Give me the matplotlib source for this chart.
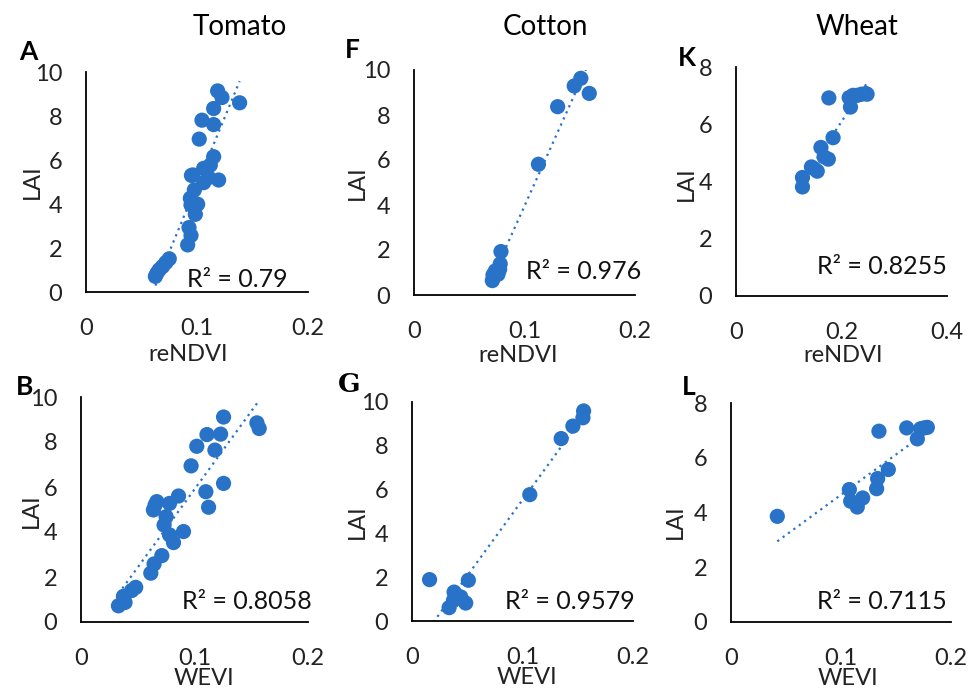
import matplotlib
matplotlib.use("Agg")
import matplotlib.pyplot as plt
import numpy as np

# -------------------- Data -------------------- #

crops = ["Tomato", "Cotton", "Wheat"]

# Tomato, reNDVI vs LAI (panel A)
tomato_rendvi = [0.0625, 0.064, 0.066, 0.069, 0.072, 0.075, 0.0916, 0.0946, 0.0928,
                 0.0985, 0.1006, 0.0946, 0.094, 0.0976, 0.0964, 0.095, 0.106, 0.1105,
                 0.1195, 0.106, 0.112, 0.115, 0.102, 0.1045, 0.115, 0.115, 0.1186,
                 0.1225, 0.1384]
tomato_lai_a = [0.71, 0.86, 1.01, 1.16, 1.34, 1.51, 2.14, 2.57, 2.93,
                3.53, 3.99, 3.96, 4.26, 4.64, 5.32, 5.30, 4.97, 5.20,
                5.09, 5.62, 5.77, 6.15, 6.95, 7.81, 7.61, 8.34, 9.14,
                8.84, 8.60]

# Tomato, WEVI vs LAI (panel B)
tomato_wevi = [0.033, 0.0388, 0.0374, 0.0447, 0.0482, 0.0615, 0.0644, 0.0712, 0.0815,
               0.078, 0.0903, 0.0732, 0.075, 0.0638, 0.0653, 0.0668, 0.078, 0.0859,
               0.097, 0.102, 0.118, 0.111, 0.123, 0.1256, 0.110, 0.1124, 0.1256,
               0.155, 0.157]
tomato_lai_b = [0.72, 0.87, 1.14, 1.40, 1.54, 2.17, 2.58, 2.95, 3.53,
                3.87, 4.02, 4.31, 4.68, 4.98, 5.20, 5.35, 5.27, 5.60,
                6.94, 7.81, 7.64, 8.33, 8.35, 9.11, 5.79, 5.10, 6.16,
                8.85, 8.60]

# Cotton (panels F and G)
cotton_rendvi = [0.0709, 0.0715, 0.0736, 0.076, 0.0775, 0.078, 0.0787, 0.1126, 0.130,
                 0.145, 0.151, 0.1586]
cotton_lai_f = [0.64, 0.89, 1.07, 0.92, 1.14, 1.38, 1.93, 5.81, 8.37,
                9.29, 9.63, 8.96]
cotton_wevi = [0.0159, 0.0336, 0.0381, 0.0375, 0.0405, 0.0441, 0.0486, 0.051, 0.1066,
               0.135, 0.1456, 0.1547, 0.1553]
cotton_lai_g = [1.89, 0.61, 1.32, 0.94, 1.13, 1.10, 0.82, 1.86, 5.77,
                8.33, 8.90, 9.28, 9.59]

# Wheat (panels K and L)
wheat_rendvi = [0.126, 0.126, 0.143, 0.148, 0.154, 0.161, 0.167, 0.175, 0.184,
                0.176, 0.217, 0.2145, 0.222, 0.230, 0.238, 0.246, 0.2485]
wheat_lai_k = [3.81, 4.14, 4.51, 4.45, 4.36, 5.19, 4.86, 4.78, 5.53,
               6.92, 6.60, 6.93, 7.01, 7.01, 7.05, 7.07, 7.05]
wheat_wevi = [0.0421, 0.1076, 0.1088, 0.1148, 0.1197, 0.1324, 0.1333, 0.143, 0.1345,
              0.1597, 0.1694, 0.1724, 0.1755, 0.1785]
wheat_lai_l = [3.86, 4.84, 4.41, 4.20, 4.53, 4.87, 5.24, 5.57, 6.97,
               7.09, 6.69, 7.06, 7.09, 7.11]

r2_labels = ["0.79", "0.976", "0.8255", "0.8058", "0.9579", "0.7115"]

# -------------------- Layout -------------------- #

W, H = 976, 691
BLUE = "#2872c8"
FONT = "Lato"

plt.rcParams["font.family"] = [FONT, "DejaVu Sans"]


def px_box(x0, ybot, x1, ytop):
    return [x0 / W, 1 - ybot / H, (x1 - x0) / W, (ybot - ytop) / H]


panels = [
    dict(letter="A", x=tomato_rendvi, y=tomato_lai_a, box=px_box(86, 292, 308, 72),
         xmax=0.2, xticks=[0, 0.1, 0.2], ymax=10, yticks=[0, 2, 4, 6, 8, 10],
         xlabel="reNDVI", r2=(0.91, 0.005), lpos=(28, 52), serif=False,
         ylab=(-0.243, 0.5), xlab=(0.46, -0.286)),
    dict(letter="F", x=cotton_rendvi, y=cotton_lai_f, box=px_box(414, 295, 635, 70),
         xmax=0.2, xticks=[0, 0.1, 0.2], ymax=10, yticks=[0, 2, 4, 6, 8, 10],
         xlabel="reNDVI", r2=(1.03, 0.052), lpos=(352, 50), serif=False,
         ylab=(-0.256, 0.5), xlab=(0.47, -0.267)),
    dict(letter="K", x=wheat_rendvi, y=wheat_lai_k, box=px_box(736, 296, 947, 67),
         xmax=0.4, xticks=[0, 0.2, 0.4], ymax=8, yticks=[0, 2, 4, 6, 8],
         xlabel="reNDVI", r2=(1.0, 0.077), lpos=(687, 58), serif=False,
         ylab=(-0.234, 0.49), xlab=(0.51, -0.26)),
    dict(letter="B", x=tomato_wevi, y=tomato_lai_b, box=px_box(81, 622, 308, 397),
         xmax=0.2, xticks=[0, 0.1, 0.2], ymax=10, yticks=[0, 2, 4, 6, 8, 10],
         xlabel="WEVI", r2=(1.018, 0.039), lpos=(25, 387), serif=False,
         ylab=(-0.217, 0.495), xlab=(0.54, -0.249)),
    dict(letter="G", x=cotton_wevi, y=cotton_lai_g, box=px_box(412, 621, 633, 402),
         xmax=0.2, xticks=[0, 0.1, 0.2], ymax=10, yticks=[0, 2, 4, 6, 8, 10],
         xlabel="WEVI", r2=(1.008, 0.037), lpos=(349, 385), serif=True,
         ylab=(-0.247, 0.453), xlab=(0.52, -0.26)),
    dict(letter="L", x=wheat_wevi, y=wheat_lai_l, box=px_box(731, 622, 951, 403),
         xmax=0.2, xticks=[0, 0.1, 0.2], ymax=8, yticks=[0, 2, 4, 6, 8],
         xlabel="WEVI", r2=(0.98, 0.041), lpos=(689, 387), serif=False,
         ylab=(-0.252, 0.46), xlab=(0.53, -0.256)),
]

fig = plt.figure(figsize=(W / 100, H / 100), dpi=100)

for p, r2 in zip(panels, r2_labels):
    ax = fig.add_axes(p["box"])
    x = np.array(p["x"])
    y = np.array(p["y"])
    ax.scatter(x, y, s=120, color=BLUE, edgecolors="none", zorder=3, clip_on=False)

    # linear trendline over the data range (Excel style)
    slope, icpt = np.polyfit(x, y, 1)
    xs = np.array([x.min(), x.max()])
    ax.plot(xs, slope * xs + icpt, linestyle=(0, (1, 2)), color=BLUE, lw=1.6, zorder=2)

    ax.set_xlim(0, p["xmax"])
    ax.set_ylim(0, p["ymax"])
    ax.set_xticks(p["xticks"])
    ax.set_xticklabels([f"{t:g}" for t in p["xticks"]])
    ax.set_yticks(p["yticks"])
    for side in ["top", "right"]:
        ax.spines[side].set_visible(False)
    for side in ["left", "bottom"]:
        ax.spines[side].set_linewidth(1.3)
    ax.tick_params(length=0, labelsize=17, colors="#222222")
    ax.tick_params(axis="y", pad=17)
    ax.tick_params(axis="x", pad=19)

    ax.set_xlabel(p["xlabel"], fontsize=17, color="#222222", va="center")
    ax.set_ylabel("LAI", fontsize=17, color="#222222", va="center")
    ax.xaxis.set_label_coords(*p["xlab"])
    ax.yaxis.set_label_coords(*p["ylab"])

    ax.text(p["r2"][0], p["r2"][1], f"R² = {r2}", transform=ax.transAxes,
            ha="right", va="bottom", fontsize=18, color="#111111")

    lx, ly = p["lpos"]
    fam = ["DejaVu Serif"] if p["serif"] else [FONT, "DejaVu Sans"]
    fig.text(lx / W, 1 - ly / H, p["letter"], fontsize=19, fontweight="bold",
             ha="center", va="center", family=fam)

# column titles
for name, cx in zip(crops, [240, 545, 857]):
    fig.text(cx / W, 1 - 27 / H, name, fontsize=20, ha="center", va="center")

fig.savefig("out.png", dpi=100)
